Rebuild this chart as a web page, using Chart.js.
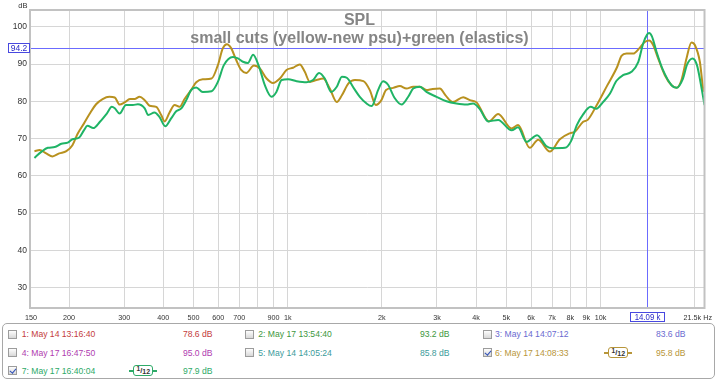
<!DOCTYPE html>
<html>
<head>
<meta charset="utf-8">
<script src="https://cdn.jsdelivr.net/npm/chart.js@4.4.1/dist/chart.umd.min.js"></script>
<style>
html,body{margin:0;padding:0;background:#fff;}
#wrap{position:relative;width:719px;height:382px;overflow:hidden;font-family:"Liberation Sans",Arial,sans-serif;}
#c{position:absolute;left:0;top:0;}
#legendBox{position:absolute;left:2px;top:323px;width:713px;height:56px;border:1px solid #a8a8a8;border-radius:5px;box-sizing:border-box;background:#fff;}
.lg{position:absolute;white-space:nowrap;font-size:8.6px;line-height:10px;}
.cb{position:absolute;width:9px;height:9px;border:1px solid #9c9c9c;box-sizing:border-box;background:linear-gradient(#fdfdfd,#d8d8d8);}
.cb.on::after{content:"";position:absolute;left:2.2px;top:0px;width:2.5px;height:5px;border-right:1.6px solid #3050b8;border-bottom:1.6px solid #3050b8;transform:rotate(40deg);}
.ic{position:absolute;height:11px;}
.ic .ln{position:absolute;top:5px;height:1.5px;}
.ic .bx{position:absolute;top:0;height:11px;border-radius:3px;box-sizing:border-box;background:#fff;font-size:7.5px;line-height:9px;color:#333;text-align:center;font-weight:bold;}
.ic sup{font-size:6.5px;vertical-align:2px;line-height:0;}
.ic sub{font-size:7px;vertical-align:-1px;line-height:0;}
</style>
</head>
<body>
<div id="wrap">
<canvas id="c" width="719" height="382"></canvas>
<div id="legendBox"></div>
</div>
<script>
// ---------- data ----------
const goldFreq = [155,161,169,177,186,196,205,213,223,233,244,256,269,280,290,301,313,324,336,349,362,380,394,404,419,435,451,468,491,510,535,571,598,620,639,660,685,710,737,780,815,856,897,944,991,1040,1093,1134,1177,1236,1298,1363,1435,1490,1564,1639,1746,1830,1913,1993,2062,2173,2283,2397,2518,2645,2777,2905,3064,3200,3370,3640,3821,4015,4400,4708,5196,5450,5940,6320,6887,7413,7979,8278,8800,9100,9700,10500,11300,11670,12110,12720,13358,13859,14300,14730,15280,16058,16870,17500,18150,18830,19530,20026,20777,21290,21500];
const goldDb   = [66.6,66.9,66.0,65.2,66.0,66.6,68.2,71.3,74.0,76.7,79.2,80.6,81.2,81.0,79.1,79.7,80.6,80.6,81.2,80.3,78.8,78.5,76.3,74.6,77.0,79.0,78.5,80.6,83.0,85.1,85.9,86.1,89.7,94.2,95.3,94.2,91.0,88.4,87.6,89.6,88.8,86.1,84.9,86.1,88.4,89.0,89.9,87.9,85.2,85.7,86.1,83.4,79.8,81.6,84.8,85.7,85.4,83.0,79.0,80.3,83.0,83.6,84.1,83.4,83.9,83.9,83.0,83.3,83.4,81.5,79.8,81.1,80.3,79.7,74.6,76.6,72.7,73.6,67.5,69.7,66.5,69.8,71.4,71.8,74.5,75.0,78.8,84.2,89.2,92.2,92.8,92.8,94.4,95.9,96.3,95.1,91.5,87.0,84.3,83.6,85.7,91.5,95.8,95.1,90.6,83.4,82.5];

const greenFreq = [155,163,171,180,189,198,205,215,223,229,239,251,264,274,280,290,304,320,332,349,358,375,389,406,424,440,457,474,491,510,535,571,598,625,668,693,719,746,775,808,845,887,920,956,1003,1067,1148,1205,1260,1314,1377,1435,1490,1545,1630,1700,1787,1855,1945,2018,2090,2200,2313,2428,2518,2645,2777,2990,3218,3463,3728,3915,4113,4375,4708,5196,5450,5800,6270,6700,7000,7700,8050,8400,8800,9300,9700,10170,10711,11250,11800,12560,13200,13690,14090,14300,14600,15100,15830,16870,17500,18350,18920,19700,20340,20960,21500];
const greenDb   = [64.8,66.4,67.5,67.7,68.6,68.9,69.8,70.2,72.2,73.4,72.8,74.5,76.7,78.5,78.1,76.7,79.0,79.0,79.2,78.1,76.3,77.0,75.8,73.3,75.4,77.3,78.1,80.3,83.0,83.7,82.5,82.7,85.2,89.7,91.9,91.5,90.6,90.3,92.5,89.5,84.3,81.2,82.5,85.7,85.9,85.4,85.1,85.7,87.6,86.1,82.5,83.9,86.6,86.3,83.4,81.2,79.4,78.7,83.0,85.4,84.5,80.8,79.1,81.2,83.4,83.9,82.5,81.2,80.0,79.4,79.1,79.4,77.9,74.6,75.0,72.2,73.0,69.1,70.9,68.0,67.4,67.5,69.3,73.6,76.5,78.5,78.0,79.7,82.0,85.5,87.0,87.9,90.5,95.5,97.9,98.3,97.4,93.3,88.4,84.3,83.6,86.1,89.9,91.5,89.7,84.3,79.0];

const xGridValues  = [200,300,400,500,600,700,800,900,1000,2000,3000,4000,5000,6000,7000,8000,9000,10000,20000];
const xLabelValues = [150,200,300,400,500,600,700,900,1000,2000,3000,4000,5000,6000,7000,8000,9000,10000];
const xLabelTexts  = ['150','200','300','400','500','600','700','900','1k','2k','3k','4k','5k','6k','7k','8k','9k','10k'];
const xEndLabel = '21.5k Hz';
const yTickValues = [30,40,50,60,70,80,90,100];
const xMin = 150, xMax = 21500, yMin = 24.5, yMax = 104.5;
const cursorFreq = 14090, cursorDb = 94.2;
const cursorFreqText = '14.09 k', cursorDbText = '94.2';
const titleText = 'SPL';
const subtitleText = 'small cuts (yellow-new psu)+green (elastics)';

const legendNames  = ['1: May 14 13:16:40','2: May 17 13:54:40','3: May 14 14:07:12','4: May 17 16:47:50','5: May 14 14:05:24','6: May 17 14:08:33','7: May 17 16:40:04'];
const legendValues = ['78.6 dB','93.2 dB','83.6 dB','95.0 dB','85.8 dB','95.8 dB','97.9 dB'];
const legendColors = ['#c43c3c','#3d973d','#6a6ad0','#b03cb0','#3c9b9b','#b8963a','#2eaa68'];
const legendChecked = [false,false,false,false,false,true,true];
const legendSmooth  = [false,false,false,false,false,true,true];

// ---------- chart ----------
const FONT = '"Liberation Sans", Arial, sans-serif';
const goldColor = '#b8911f';
const greenColor = '#1fb466';
const cursorColor = '#6b6bff';

const goldPts = goldFreq.map((f,i)=>({x:f,y:goldDb[i]}));
const greenPts = greenFreq.map((f,i)=>({x:f,y:greenDb[i]}));

const overlay = {
  id:'overlay',
  beforeDatasetsDraw(chart){
    const {ctx, chartArea:a, scales:{x,y}} = chart;
    ctx.save();
    ctx.strokeStyle = cursorColor;
    ctx.lineWidth = 1;
    const cx = Math.round(x.getPixelForValue(cursorFreq)) + 0.5;
    const cy = Math.round(y.getPixelForValue(cursorDb)) + 0.5;
    ctx.beginPath();
    ctx.moveTo(cx, a.top); ctx.lineTo(cx, a.bottom);
    ctx.moveTo(a.left, cy); ctx.lineTo(a.right, cy);
    ctx.stroke();
    ctx.fillStyle = '#858585';
    ctx.font = 'bold 16px ' + FONT;
    ctx.textAlign = 'center';
    ctx.textBaseline = 'alphabetic';
    ctx.fillText(titleText, 359.5, 25);
    ctx.fillText(subtitleText, 359.5, 43);
    ctx.restore();
  },
  afterDraw(chart){
    const {ctx, chartArea:a, scales:{x,y}} = chart;
    ctx.save();
    // frame
    ctx.strokeStyle = '#c2c2c2';
    ctx.lineWidth = 2;
    ctx.strokeRect(a.left, a.top, a.right - a.left, a.bottom - a.top);
    // x labels
    ctx.fillStyle = '#333';
    ctx.textBaseline = 'alphabetic';
    ctx.font = '8px ' + FONT;
    xLabelValues.forEach((v,i)=>{
      const px = x.getPixelForValue(v);
      ctx.save();
      ctx.translate(v===xMin ? px+1 : px, 320);
      ctx.scale(0.9,1);
      ctx.textAlign = 'center';
      ctx.fillText(xLabelTexts[i], 0, 0);
      ctx.restore();
    });
    ctx.save();
    ctx.translate(x.getPixelForValue(xMax) + 7.5, 320);
    ctx.scale(0.9,1);
    ctx.textAlign = 'right';
    ctx.fillText(xEndLabel, 0, 0);
    ctx.restore();
    // dB label
    ctx.font = '7.5px ' + FONT;
    ctx.textAlign = 'right';
    ctx.fillText('dB', 27.5, 7.5);
    // cursor boxes
    const cx = x.getPixelForValue(cursorFreq);
    const cy = y.getPixelForValue(cursorDb);
    ctx.fillStyle = '#fff';
    ctx.strokeStyle = '#4848e0';
    ctx.lineWidth = 1;
    ctx.fillRect(8.5, Math.round(cy)-4.5, 21, 9);
    ctx.strokeRect(8.5, Math.round(cy)-4.5, 21, 9);
    ctx.fillRect(Math.round(cx)-16.5, 312.5, 34, 9);
    ctx.strokeRect(Math.round(cx)-16.5, 312.5, 34, 9);
    ctx.fillStyle = '#2a2ac8';
    ctx.textAlign = 'center';
    ctx.textBaseline = 'middle';
    ctx.font = '8.5px ' + FONT;
    ctx.fillText(cursorDbText, 19, Math.round(cy)+0.5);
    ctx.save();
    ctx.translate(Math.round(cx)+0.5, 317.5);
    ctx.scale(0.92,1);
    ctx.fillText(cursorFreqText, 0, 0);
    ctx.restore();
    ctx.restore();
  }
};

new Chart(document.getElementById('c'), {
  type:'line',
  data:{datasets:[
    {label:'6', data:goldPts, borderColor:goldColor, borderWidth:2, pointRadius:0, fill:false, cubicInterpolationMode:'monotone', order:1},
    {label:'7', data:greenPts, borderColor:greenColor, borderWidth:2, pointRadius:0, fill:false, cubicInterpolationMode:'monotone', order:0}
  ]},
  options:{
    responsive:false, animation:false, devicePixelRatio:1,
    layout:{padding:{top:10,right:14.5,left:0,bottom:0}},
    plugins:{legend:{display:false}, tooltip:{enabled:false}, title:{display:false}},
    scales:{
      x:{type:'logarithmic', min:xMin, max:xMax,
         afterBuildTicks:s=>{ s.ticks = xGridValues.map(v=>({value:v})); },
         afterFit:s=>{ s.height = 74; },
         ticks:{display:false},
         grid:{color:'#d6d6d6', lineWidth:1, drawTicks:false},
         border:{display:false}},
      y:{type:'linear', min:yMin, max:yMax,
         afterBuildTicks:s=>{ s.ticks = yTickValues.map(v=>({value:v})); },
         afterFit:s=>{ s.width = 30; },
         ticks:{font:{size:8.5, family:FONT}, color:'#333', padding:3, autoSkip:false},
         grid:{color:'#d6d6d6', lineWidth:1, drawTicks:false},
         border:{display:false}}
    }
  },
  plugins:[overlay]
});

// ---------- legend ----------
const wrap = document.getElementById('wrap');
const colCb = [7.5, 245, 482.5], colText = [21.7, 258.3, 495], colValRight = [212.5, 449.5, 685.5], colIcon = [129.3, 366.5, 604.3];
const rowY = [334.3, 352.5, 370.8];
legendNames.forEach((name,i)=>{
  const c = i % 3, r = Math.floor(i/3), yc = rowY[r];
  const cb = document.createElement('div');
  cb.className = 'cb' + (legendChecked[i] ? ' on' : '');
  cb.style.left = colCb[c] + 'px'; cb.style.top = (yc-4.5) + 'px';
  wrap.appendChild(cb);
  const t = document.createElement('div');
  t.className = 'lg'; t.textContent = name; t.style.color = legendColors[i];
  t.style.left = colText[c] + 'px'; t.style.top = (yc-5) + 'px';
  wrap.appendChild(t);
  const v = document.createElement('div');
  v.className = 'lg'; v.textContent = legendValues[i]; v.style.color = legendColors[i];
  v.style.right = (719 - colValRight[c]) + 'px'; v.style.top = (yc-5) + 'px';
  wrap.appendChild(v);
  if (legendSmooth[i]) {
    const ic = document.createElement('div');
    ic.className = 'ic';
    ic.style.left = colIcon[c] + 'px'; ic.style.top = (yc-5.5) + 'px'; ic.style.width = '28px';
    ic.innerHTML = '<div class="ln" style="left:0;width:5px;background:'+legendColors[i]+'"></div>' +
      '<div class="bx" style="left:4px;width:20px;border:1.5px solid '+legendColors[i]+'"><sup>1</sup>/<sub>12</sub></div>' +
      '<div class="ln" style="left:23px;width:5px;background:'+legendColors[i]+'"></div>';
    wrap.appendChild(ic);
  }
});
</script>
</body>
</html>
